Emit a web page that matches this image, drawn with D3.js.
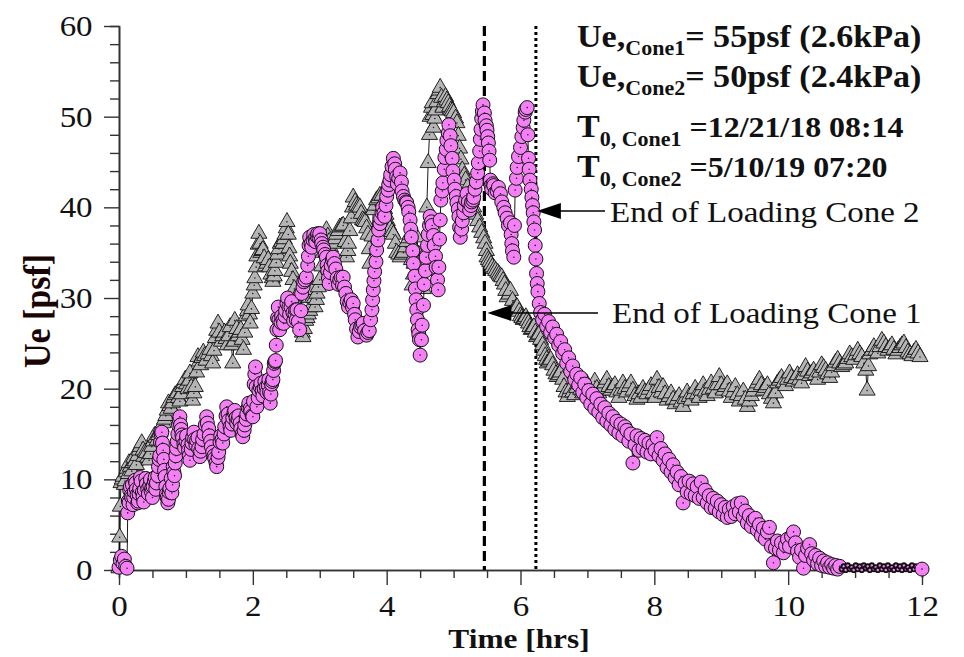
<!DOCTYPE html>
<html>
<head>
<meta charset="utf-8">
<script src="https://cdn.jsdelivr.net/npm/d3@7"></script>
<style>
  body { margin: 0; background: #fff; }
  svg { display: block; }
  text { font-family: "Liberation Serif", "Times New Roman", serif; }
</style>
</head>
<body>
<svg id="chart" width="964" height="657"></svg>
<script>
// Cone 1 (grey triangles): [time hrs, Ue psf]
var cone1 = [
  [0.00,0.2],[0.01,3.6],[0.02,7.0],[0.03,9.6],[0.05,10.0],[0.06,10.3],[0.08,9.4],[0.09,9.8],[0.11,10.8],[0.12,11.2],
  [0.14,10.6],[0.15,11.8],[0.17,11.4],[0.19,10.9],[0.21,11.8],[0.22,12.4],[0.24,12.0],[0.26,11.6],[0.28,12.6],[0.30,13.2],
  [0.32,13.6],[0.34,14.0],[0.36,13.2],[0.37,12.5],[0.39,13.0],[0.41,12.9],[0.43,12.4],[0.45,12.1],[0.47,12.8],[0.49,13.6],
  [0.51,14.2],[0.53,14.8],[0.55,14.6],[0.57,14.3],[0.59,14.9],[0.61,15.2],[0.63,15.8],[0.66,16.2],[0.68,16.6],[0.70,17.0],
  [0.72,17.6],[0.74,18.4],[0.76,18.1],[0.78,17.8],[0.80,18.4],[0.82,19.0],[0.84,19.3],[0.87,19.5],[0.89,19.0],[0.91,18.6],
  [0.93,19.4],[0.95,20.2],[0.97,20.6],[0.99,21.0],[1.01,20.5],[1.03,20.0],[1.05,20.9],[1.06,21.7],[1.08,20.1],[1.10,18.7],
  [1.12,19.5],[1.14,20.2],[1.16,21.8],[1.18,23.5],[1.20,23.0],[1.22,22.6],[1.24,23.4],[1.26,24.0],[1.28,23.6],[1.30,23.1],
  [1.33,23.8],[1.36,24.3],[1.38,23.6],[1.40,22.8],[1.42,24.2],[1.44,25.6],[1.46,26.4],[1.48,27.2],[1.50,26.2],[1.53,25.2],
  [1.55,25.8],[1.58,26.2],[1.60,25.5],[1.62,24.8],[1.64,25.8],[1.66,26.8],[1.68,24.8],[1.70,22.8],[1.72,25.2],[1.73,27.5],
  [1.76,26.6],[1.78,25.8],[1.80,26.2],[1.82,26.5],[1.84,25.4],[1.86,24.3],[1.88,26.2],[1.90,28.0],[1.92,28.6],[1.93,29.2],
  [1.95,28.2],[1.96,27.2],[1.98,28.8],[2.00,30.5],[2.02,31.4],[2.03,32.2],[2.05,33.4],[2.06,34.6],[2.08,35.9],[2.09,37.1],
  [2.11,36.0],[2.12,35.0],[2.14,35.2],[2.15,35.3],[2.17,34.4],[2.19,33.5],[2.21,33.8],[2.23,34.2],[2.25,33.4],[2.27,32.6],
  [2.29,32.2],[2.30,31.8],[2.32,32.4],[2.33,33.0],[2.35,33.9],[2.37,34.8],[2.39,35.4],[2.41,36.0],[2.43,36.2],[2.45,36.0],
  [2.47,36.5],[2.48,37.0],[2.50,37.7],[2.51,38.4],[2.53,37.0],[2.54,35.5],[2.55,34.6],[2.56,33.8],[2.58,32.9],[2.60,32.0],
  [2.62,31.0],[2.64,30.0],[2.66,29.2],[2.68,28.4],[2.70,27.6],[2.72,26.8],[2.74,26.2],[2.75,25.7],[2.77,26.6],[2.79,27.5],
  [2.81,27.8],[2.83,28.2],[2.85,28.6],[2.87,29.0],[2.89,30.0],[2.90,30.9],[2.92,30.0],[2.93,29.0],[2.95,29.8],[2.96,30.5],
  [2.98,31.2],[3.00,32.0],[3.03,33.5],[3.05,35.0],[3.08,36.2],[3.10,37.5],[3.12,36.8],[3.14,36.2],[3.16,35.6],[3.18,35.0],
  [3.20,36.0],[3.23,36.5],[3.25,37.0],[3.28,37.4],[3.30,37.8],[3.33,37.9],[3.35,38.0],[3.38,36.2],[3.40,34.5],[3.42,35.2],
  [3.43,36.0],[3.45,37.4],[3.47,38.8],[3.49,40.0],[3.50,41.1],[3.53,40.6],[3.55,40.2],[3.58,40.1],[3.60,40.0],[3.62,39.3],
  [3.64,38.6],[3.66,38.5],[3.68,38.4],[3.70,37.7],[3.72,37.0],[3.74,35.4],[3.75,33.8],[3.78,36.8],[3.80,39.7],[3.83,40.2],
  [3.85,40.8],[3.88,41.0],[3.90,41.3],[3.93,41.3],[3.95,40.6],[3.97,39.8],[3.99,39.2],[4.01,38.5],[4.03,38.0],[4.05,37.6],
  [4.08,37.3],[4.10,37.0],[4.13,36.0],[4.15,35.0],[4.18,34.8],[4.20,34.5],[4.23,34.8],[4.25,35.0],[4.28,35.6],[4.30,36.2],
  [4.33,36.6],[4.35,37.0],[4.37,34.2],[4.38,31.4],[4.40,32.6],[4.41,33.8],[4.43,35.2],[4.45,36.7],[4.48,34.8],[4.50,33.0],
  [4.53,32.0],[4.55,31.0],[4.57,33.0],[4.58,35.0],[4.60,40.0],[4.62,44.9],[4.64,48.0],[4.65,50.0],[4.67,51.0],[4.68,51.5],
  [4.69,50.2],[4.70,48.8],[4.72,49.8],[4.73,50.7],[4.75,51.6],[4.77,52.5],[4.79,52.9],[4.80,53.2],[4.82,52.1],[4.84,51.0],
  [4.86,51.6],[4.88,52.2],[4.90,51.8],[4.92,51.5],[4.94,51.1],[4.96,50.7],[4.98,50.6],[5.00,50.4],[5.03,49.8],[5.05,49.3],
  [5.07,47.9],[5.09,46.5],[5.11,45.3],[5.13,44.1],[5.16,43.5],[5.18,43.0],[5.21,42.2],[5.24,41.5],[5.27,40.8],[5.30,40.0],
  [5.33,39.2],[5.36,38.5],[5.39,37.8],[5.42,37.2],[5.45,36.6],[5.47,36.0],[5.49,35.2],[5.50,34.5],[5.52,34.2],[5.54,34.0],
  [5.56,33.7],[5.58,33.4],[5.61,33.2],[5.63,33.0],[5.66,32.8],[5.68,32.6],[5.70,32.4],[5.72,32.3],[5.74,31.9],[5.76,31.5],
  [5.78,30.8],[5.80,30.1],[5.83,30.4],[5.85,30.8],[5.88,29.7],[5.90,28.7],[5.93,28.9],[5.95,29.0],[5.98,28.5],[6.00,28.0],
  [6.02,27.8],[6.04,27.6],[6.06,27.7],[6.08,27.9],[6.10,27.5],[6.12,27.2],[6.14,26.8],[6.16,26.5],[6.18,26.6],[6.20,26.8],
  [6.22,26.2],[6.24,25.7],[6.26,25.9],[6.28,26.0],[6.30,25.4],[6.33,24.8],[6.35,24.2],[6.37,23.6],[6.39,23.2],[6.40,22.8],
  [6.43,23.0],[6.45,23.2],[6.48,22.6],[6.50,22.0],[6.53,21.6],[6.55,21.3],[6.58,21.5],[6.60,21.8],[6.63,21.0],[6.65,20.2],
  [6.68,19.6],[6.70,19.1],[6.73,19.6],[6.75,20.0],[6.78,19.6],[6.81,19.3],[6.84,20.1],[6.87,20.5],[6.90,19.9],[6.93,19.5],
  [6.96,20.2],[6.99,20.6],[7.02,19.8],[7.05,19.2],[7.08,20.3],[7.11,20.8],[7.14,20.0],[7.17,19.5],[7.20,19.8],[7.23,20.0],
  [7.26,20.6],[7.29,21.0],[7.32,20.2],[7.35,19.8],[7.38,20.1],[7.41,20.4],[7.44,19.6],[7.47,19.0],[7.50,19.8],[7.53,20.6],
  [7.56,20.0],[7.59,19.6],[7.62,20.2],[7.65,20.6],[7.68,19.8],[7.71,19.2],[7.74,18.8],[7.77,19.4],[7.80,19.0],[7.83,20.0],
  [7.86,19.6],[7.89,19.4],[7.92,19.9],[7.95,20.3],[7.98,19.5],[8.01,19.0],[8.04,21.0],[8.07,20.1],[8.10,19.6],[8.13,20.2],
  [8.16,19.4],[8.19,18.7],[8.22,19.1],[8.25,19.5],[8.28,18.8],[8.31,18.3],[8.34,18.8],[8.37,19.2],[8.40,18.5],[8.43,18.0],
  [8.46,18.9],[8.49,19.6],[8.52,19.1],[8.55,18.7],[8.58,19.4],[8.61,20.0],[8.64,19.4],[8.67,19.0],[8.70,19.8],[8.73,20.4],
  [8.76,19.7],[8.79,19.2],[8.82,19.9],[8.85,20.6],[8.88,20.0],[8.91,19.5],[8.94,20.4],[8.97,21.3],[9.00,20.4],[9.03,19.8],
  [9.06,20.2],[9.09,20.5],[9.12,19.7],[9.15,19.0],[9.18,19.6],[9.21,20.2],[9.24,19.3],[9.27,18.6],[9.30,19.2],[9.33,19.7],
  [9.36,18.8],[9.39,18.0],[9.42,18.6],[9.45,19.2],[9.48,19.7],[9.51,20.2],[9.54,20.6],[9.57,21.0],[9.60,20.4],[9.63,19.8],
  [9.66,20.1],[9.69,20.4],[9.72,19.4],[9.75,18.9],[9.78,18.4],[9.81,19.5],[9.84,20.6],[9.87,20.9],[9.90,21.2],[9.93,20.7],
  [9.96,20.3],[9.99,21.0],[10.02,21.7],[10.05,21.2],[10.08,20.8],[10.11,21.1],[10.14,21.5],[10.17,21.0],[10.20,20.6],[10.23,21.5],
  [10.26,22.4],[10.29,21.9],[10.32,21.4],[10.35,21.7],[10.38,22.0],[10.41,21.5],[10.44,21.0],[10.47,21.8],[10.50,22.6],[10.53,22.3],
  [10.56,22.0],[10.59,21.6],[10.62,21.2],[10.65,21.8],[10.68,22.5],[10.71,22.9],[10.74,23.2],[10.77,22.8],[10.80,22.4],[10.83,22.6],
  [10.86,22.8],[10.89,23.3],[10.92,23.8],[10.95,23.5],[10.98,23.2],[11.01,23.7],[11.04,24.2],[11.07,23.8],[11.10,23.5],[11.13,22.8],
  [11.16,22.0],[11.18,19.8],[11.20,22.5],[11.22,23.8],[11.25,24.2],[11.28,24.6],[11.31,24.2],[11.34,23.9],[11.37,24.6],[11.40,25.3],
  [11.43,25.0],[11.46,24.6],[11.49,24.2],[11.52,24.5],[11.55,24.8],[11.58,24.3],[11.61,23.8],[11.64,24.2],[11.67,24.5],[11.70,24.8],
  [11.73,25.0],[11.76,24.5],[11.79,24.0],[11.82,23.8],[11.85,23.6],[11.88,24.0],[11.91,24.3],[11.94,23.9],[11.97,23.5]
];

// Cone 2 (magenta circles): [time hrs, Ue psf]
var cone2 = [
  [0.00,0.3],[0.02,1.1],[0.04,1.5],[0.06,0.7],[0.08,1.2],[0.10,0.4],[0.12,0.2],[0.13,6.3],[0.14,7.6],[0.15,7.4],
  [0.16,8.8],[0.17,9.2],[0.18,8.2],[0.19,8.0],[0.20,9.4],[0.21,7.2],[0.22,8.0],[0.23,8.6],[0.24,9.9],[0.25,9.6],
  [0.26,8.9],[0.27,8.3],[0.28,7.4],[0.29,7.6],[0.30,8.4],[0.31,9.0],[0.32,10.2],[0.33,9.8],[0.35,8.6],[0.36,8.1],
  [0.37,7.5],[0.38,8.8],[0.40,10.1],[0.41,9.5],[0.43,8.9],[0.44,8.4],[0.46,9.3],[0.47,10.0],[0.48,8.7],[0.49,9.1],
  [0.50,8.0],[0.51,9.2],[0.53,9.8],[0.54,10.2],[0.55,8.9],[0.56,9.6],[0.58,10.4],[0.59,11.4],[0.60,12.2],[0.61,12.6],
  [0.62,14.1],[0.63,15.0],[0.64,15.2],[0.65,14.0],[0.66,13.2],[0.67,12.2],[0.68,11.0],[0.69,10.3],[0.70,9.2],[0.71,8.4],
  [0.72,8.0],[0.73,7.4],[0.74,7.8],[0.75,8.6],[0.76,9.0],[0.78,10.1],[0.79,8.5],[0.80,9.4],[0.81,11.4],[0.82,10.8],
  [0.83,10.4],[0.84,11.8],[0.85,12.6],[0.86,13.4],[0.87,14.2],[0.88,15.0],[0.89,16.0],[0.90,16.6],[0.91,16.9],[0.92,16.0],
  [0.93,15.5],[0.94,14.9],[0.95,14.6],[0.97,13.9],[0.98,13.5],[1.00,14.2],[1.01,14.8],[1.03,13.8],[1.04,13.2],[1.05,12.6],
  [1.06,12.1],[1.08,13.3],[1.09,14.0],[1.10,14.6],[1.12,15.2],[1.13,14.4],[1.15,13.8],[1.16,14.3],[1.18,14.6],[1.19,13.4],
  [1.21,12.5],[1.22,13.1],[1.24,13.6],[1.25,14.4],[1.27,15.0],[1.29,16.0],[1.31,16.9],[1.32,16.2],[1.34,15.6],[1.35,14.8],
  [1.37,14.2],[1.38,13.6],[1.40,13.0],[1.42,12.6],[1.43,12.3],[1.45,11.8],[1.46,11.4],[1.48,12.4],[1.49,13.0],[1.51,14.1],
  [1.52,14.8],[1.54,14.4],[1.55,14.0],[1.57,15.0],[1.58,15.8],[1.60,17.0],[1.61,18.0],[1.63,17.2],[1.64,16.5],[1.66,15.8],
  [1.67,15.4],[1.69,16.1],[1.70,16.8],[1.72,17.4],[1.73,17.6],[1.75,16.8],[1.76,16.2],[1.78,16.6],[1.79,17.0],[1.81,16.2],
  [1.82,15.6],[1.84,15.0],[1.85,14.7],[1.87,15.4],[1.88,16.0],[1.90,16.6],[1.91,17.2],[1.93,17.9],[1.94,18.4],[1.96,17.8],
  [1.97,17.5],[1.99,17.0],[2.00,16.9],[2.01,18.6],[2.02,20.5],[2.03,21.6],[2.04,22.4],[2.05,20.2],[2.06,18.0],[2.08,19.0],
  [2.09,19.8],[2.11,20.2],[2.12,20.6],[2.14,19.8],[2.15,19.2],[2.17,20.0],[2.18,20.8],[2.20,20.2],[2.21,19.6],[2.23,20.4],
  [2.24,21.0],[2.25,19.6],[2.26,18.4],[2.27,19.4],[2.28,20.5],[2.29,20.8],[2.30,21.0],[2.31,22.0],[2.32,22.8],[2.33,23.0],
  [2.34,23.1],[2.35,24.8],[2.36,26.5],[2.37,27.8],[2.38,29.0],[2.39,27.6],[2.40,26.5],[2.42,27.3],[2.43,28.0],[2.45,27.6],
  [2.46,27.2],[2.48,28.0],[2.49,28.6],[2.51,29.4],[2.52,30.0],[2.54,29.0],[2.55,28.2],[2.57,29.0],[2.58,29.6],[2.60,28.4],
  [2.61,27.5],[2.63,28.2],[2.64,28.7],[2.65,27.6],[2.66,28.7],[2.68,27.4],[2.70,26.5],[2.72,28.6],[2.73,30.5],[2.75,31.2],
  [2.76,31.8],[2.78,32.0],[2.80,32.3],[2.82,33.6],[2.83,34.6],[2.84,35.8],[2.85,36.7],[2.87,36.0],[2.88,35.6],[2.90,36.4],
  [2.91,37.0],[2.93,36.6],[2.94,36.2],[2.96,36.8],[2.97,37.1],[2.99,36.6],[3.00,37.1],[3.02,36.4],[3.03,36.0],[3.05,35.6],
  [3.06,35.3],[3.08,34.8],[3.10,34.5],[3.11,33.6],[3.12,33.0],[3.13,32.2],[3.14,31.6],[3.16,32.8],[3.17,33.6],[3.19,34.2],
  [3.20,34.5],[3.22,33.8],[3.24,33.2],[3.26,32.2],[3.28,31.5],[3.30,32.0],[3.32,32.3],[3.34,31.4],[3.35,32.3],[3.37,31.2],
  [3.39,30.5],[3.41,29.6],[3.43,29.0],[3.45,29.5],[3.47,29.8],[3.49,29.0],[3.50,29.4],[3.52,28.2],[3.53,27.6],[3.55,26.6],
  [3.57,25.7],[3.59,26.3],[3.61,26.8],[3.63,27.0],[3.65,27.2],[3.67,26.4],[3.70,25.9],[3.72,26.2],[3.74,26.4],[3.76,27.6],
  [3.78,28.7],[3.79,29.8],[3.80,30.9],[3.81,31.9],[3.82,32.9],[3.84,34.0],[3.85,35.3],[3.87,36.4],[3.88,37.5],[3.90,38.2],
  [3.91,38.8],[3.93,39.4],[3.94,40.0],[3.96,39.4],[3.97,39.0],[3.99,40.2],[4.00,41.2],[4.02,41.9],[4.03,42.5],[4.05,43.0],
  [4.06,43.6],[4.08,44.5],[4.10,45.4],[4.12,44.8],[4.13,44.2],[4.15,43.4],[4.16,42.6],[4.18,43.2],[4.20,43.8],[4.22,42.8],
  [4.23,41.8],[4.25,41.2],[4.27,40.8],[4.29,40.6],[4.30,40.5],[4.32,40.0],[4.33,39.5],[4.35,38.6],[4.36,37.6],[4.37,36.7],
  [4.39,35.2],[4.40,33.8],[4.42,32.4],[4.43,31.0],[4.44,29.8],[4.45,28.7],[4.46,27.6],[4.47,26.5],[4.48,26.0],[4.49,25.4],
  [4.50,23.7],[4.52,25.4],[4.53,27.0],[4.55,29.2],[4.56,31.5],[4.58,33.0],[4.59,34.5],[4.61,35.8],[4.62,37.0],[4.64,38.0],
  [4.65,39.0],[4.67,38.4],[4.68,38.0],[4.70,36.9],[4.71,35.8],[4.73,34.6],[4.74,33.4],[4.76,32.0],[4.77,30.9],[4.78,33.4],
  [4.79,36.5],[4.80,38.6],[4.81,40.8],[4.83,41.8],[4.84,42.7],[4.86,44.2],[4.87,45.5],[4.89,46.4],[4.90,47.4],[4.92,48.2],
  [4.93,49.1],[4.95,47.9],[4.96,46.8],[4.98,45.4],[4.99,44.0],[5.01,43.0],[5.02,42.0],[5.04,41.2],[5.05,40.5],[5.07,39.8],
  [5.08,39.0],[5.09,37.8],[5.10,36.7],[5.12,37.6],[5.13,38.5],[5.15,39.4],[5.16,40.2],[5.18,40.8],[5.20,41.5],[5.22,40.6],
  [5.24,39.7],[5.26,40.2],[5.27,40.6],[5.29,40.8],[5.30,41.1],[5.32,42.0],[5.34,42.8],[5.36,43.8],[5.37,44.9],[5.39,46.2],
  [5.40,47.5],[5.41,48.6],[5.42,49.8],[5.43,50.6],[5.44,51.3],[5.46,50.4],[5.47,49.6],[5.49,49.0],[5.50,48.5],[5.51,47.8],
  [5.52,47.1],[5.53,46.2],[5.54,45.2],[5.55,43.0],[5.56,42.4],[5.57,42.0],[5.59,42.6],[5.60,42.4],[5.62,41.6],[5.65,41.8],
  [5.67,42.2],[5.70,41.5],[5.72,40.6],[5.75,40.0],[5.77,39.4],[5.80,38.8],[5.82,38.0],[5.85,38.3],[5.86,37.0],[5.87,36.0],
  [5.88,35.2],[5.90,34.5],[5.91,38.0],[5.92,41.9],[5.94,43.2],[5.95,44.4],[5.97,45.6],[6.00,46.6],[6.02,47.8],[6.04,48.8],
  [6.05,49.6],[6.07,50.5],[6.08,50.8],[6.10,51.0],[6.11,48.0],[6.12,45.4],[6.13,44.2],[6.14,43.0],[6.16,42.0],[6.17,41.1],
  [6.18,40.2],[6.19,39.4],[6.20,38.4],[6.21,37.5],[6.22,35.8],[6.23,34.3],[6.24,32.7],[6.25,31.6],[6.26,30.7],[6.28,29.4],
  [6.30,28.4],[6.33,27.6],[6.36,28.2],[6.39,26.9],[6.42,27.4],[6.45,26.2],[6.48,26.8],[6.51,25.6],[6.54,26.0],[6.57,24.8],
  [6.60,25.2],[6.63,23.9],[6.66,24.3],[6.69,22.8],[6.72,23.4],[6.75,21.9],[6.78,22.5],[6.81,21.0],[6.84,21.6],[6.87,20.4],
  [6.90,21.2],[6.93,19.6],[6.96,20.5],[6.99,19.0],[7.02,19.8],[7.05,18.3],[7.08,19.4],[7.11,17.8],[7.14,18.9],[7.17,17.4],
  [7.20,18.3],[7.23,16.8],[7.26,17.9],[7.29,16.4],[7.32,17.3],[7.35,16.0],[7.38,16.9],[7.41,15.5],[7.44,16.4],[7.47,15.1],
  [7.50,16.1],[7.53,14.8],[7.56,15.8],[7.59,15.4],[7.62,14.2],[7.65,15.0],[7.68,11.8],[7.71,13.8],[7.74,14.8],[7.77,13.2],
  [7.80,14.5],[7.83,13.4],[7.86,14.3],[7.89,13.0],[7.92,14.0],[7.95,12.8],[7.98,13.8],[8.01,13.2],[8.04,14.6],[8.07,12.6],
  [8.10,13.4],[8.13,12.1],[8.16,12.8],[8.19,11.3],[8.22,12.2],[8.25,10.8],[8.28,11.6],[8.31,10.2],[8.34,10.8],[8.37,9.4],
  [8.40,10.3],[8.43,7.4],[8.46,9.6],[8.49,8.6],[8.52,9.8],[8.55,8.4],[8.58,9.5],[8.61,8.2],[8.64,9.2],[8.67,7.9],
  [8.70,9.7],[8.73,8.0],[8.76,8.8],[8.79,7.4],[8.82,8.2],[8.85,6.9],[8.88,7.9],[8.91,6.8],[8.94,7.6],[8.97,6.4],
  [9.00,7.2],[9.03,6.1],[9.06,6.9],[9.09,5.8],[9.12,6.7],[9.15,5.9],[9.18,7.0],[9.21,6.2],[9.24,7.3],[9.27,6.4],
  [9.30,7.4],[9.33,5.9],[9.36,6.5],[9.39,5.2],[9.42,6.0],[9.45,4.8],[9.48,5.5],[9.51,5.7],[9.54,4.4],[9.57,5.0],
  [9.60,3.8],[9.63,4.6],[9.66,3.4],[9.69,4.2],[9.72,4.7],[9.75,2.6],[9.78,0.8],[9.81,2.4],[9.84,3.2],[9.87,2.2],
  [9.90,3.0],[9.93,1.9],[9.96,2.7],[9.99,3.4],[10.02,2.6],[10.05,3.7],[10.08,4.2],[10.11,3.0],[10.14,2.1],[10.17,1.4],
  [10.20,2.2],[10.23,0.2],[10.26,1.6],[10.29,2.4],[10.32,2.8],[10.35,1.8],[10.38,1.1],[10.41,1.6],[10.44,0.7],[10.47,1.3],
  [10.50,0.5],[10.53,1.0],[10.56,0.4],[10.59,0.8],[10.62,0.3],[10.65,0.6],[10.68,0.2],[10.71,0.5],[10.74,0.1],[10.77,0.4],
  [10.80,0.1],[10.83,0.4],[10.86,0.0],[10.89,0.5],[10.92,0.1],[10.95,0.3],[10.98,0.0],[11.01,0.5],[11.04,0.1],[11.07,0.4],
  [11.10,0.0],[11.13,0.5],[11.16,0.2],[11.19,0.4],[11.22,0.0],[11.25,0.5],[11.28,0.1],[11.31,0.3],[11.34,0.0],[11.37,0.5],
  [11.40,0.1],[11.43,0.4],[11.46,0.0],[11.49,0.5],[11.52,0.1],[11.55,0.3],[11.58,0.0],[11.61,0.5],[11.64,0.1],[11.67,0.4],
  [11.70,0.0],[11.73,0.5],[11.76,0.1],[11.79,0.3],[11.82,0.0],[11.85,0.5],[11.88,0.1],[11.91,0.4],[11.94,0.0],[12.00,0.1]
];

var xTicks = [0, 2, 4, 6, 8, 10, 12];
var yTicks = [0, 10, 20, 30, 40, 50, 60];
var endLoad1 = 5.46, endLoad2 = 6.23;   // hrs

var svg = d3.select("#chart");
var x = d3.scaleLinear().domain([0, 12]).range([119, 922]);
var y = d3.scaleLinear().domain([0, 60]).range([570, 26]);

// axes: major + minor ticks, outward
function styleAxis(g){
    g.selectAll("path.domain").attr("stroke", "#333").attr("stroke-width", 1.6);
    g.selectAll(".tick line").attr("stroke", "#333").attr("stroke-width", 1.4);
    g.selectAll("text").attr("font-size", 30).attr("fill", "#111").attr("transform", "scale(1.1,1)");
}
var xMinor = d3.range(0, 12.01, 0.5).filter(function(d){ return d % 2 !== 0; });
var yMinor = d3.range(0, 60.1, 2).filter(function(d){ return d % 10 !== 0; });

svg.append("g").attr("transform", "translate(0,570)")
    .call(d3.axisBottom(x).tickValues(xMinor).tickSize(8).tickFormat(""))
    .call(styleAxis);
svg.append("g").attr("transform", "translate(0,570)")
    .call(d3.axisBottom(x).tickValues(xTicks).tickSize(15).tickPadding(10).tickSizeOuter(0))
    .call(styleAxis);
svg.append("g").attr("transform", "translate(119,0)")
    .call(d3.axisLeft(y).tickValues(yMinor).tickSize(9).tickFormat(""))
    .call(styleAxis);
svg.append("g").attr("transform", "translate(119,0)")
    .call(d3.axisLeft(y).tickValues(yTicks).tickSize(15).tickPadding(9).tickSizeOuter(0))
    .call(styleAxis);

// axis titles
svg.append("text")
    .attr("transform", "translate(519,648) scale(1.12,1)")
    .attr("text-anchor", "middle").attr("font-size", 28).attr("font-weight", "bold")
    .attr("fill", "#111").text("Time [hrs]");
svg.append("text")
    .attr("transform", "translate(50,311) rotate(-90) scale(1,1.1)")
    .attr("text-anchor", "middle").attr("font-size", 34).attr("font-weight", "bold")
    .attr("fill", "#1a0505").text("Ue [psf]");

// end of loading lines
svg.append("line")
    .attr("x1", x(endLoad1)).attr("x2", x(endLoad1)).attr("y1", 26).attr("y2", 570)
    .attr("stroke", "#000").attr("stroke-width", 3.2).attr("stroke-dasharray", "10,5");
svg.append("line")
    .attr("x1", x(endLoad2)).attr("x2", x(endLoad2)).attr("y1", 26).attr("y2", 570)
    .attr("stroke", "#000").attr("stroke-width", 3).attr("stroke-dasharray", "3,3");

var line = d3.line().x(function(d){ return x(d[0]); }).y(function(d){ return y(d[1]); });

// cone 1 triangles
svg.append("path").datum(cone1).attr("d", line)
    .attr("fill", "none").attr("stroke", "#000").attr("stroke-width", 0.9);
var tri = svg.append("g").selectAll("g").data(cone1).enter().append("g")
    .attr("transform", function(d){ return "translate(" + x(d[0]) + "," + y(d[1]) + ")"; });
tri.append("path").attr("d", d3.symbol(d3.symbolTriangle, 112))
    .attr("fill", "#b5b5b5").attr("stroke", "#111").attr("stroke-width", 0.9);
tri.append("circle").attr("r", 0.8).attr("fill", "#222");

// cone 2 circles
svg.append("path").datum(cone2).attr("d", line)
    .attr("fill", "none").attr("stroke", "#000").attr("stroke-width", 0.9);
var small = function(d){ return d[0] > 10.79 && d[0] < 11.95; };
var circ = svg.append("g").selectAll("g").data(cone2).enter().append("g")
    .attr("transform", function(d){ return "translate(" + x(d[0]) + "," + y(d[1]) + ")"; });
circ.append("circle").attr("r", function(d){ return small(d) ? 2.2 : 7; })
    .attr("fill", "#f57ff5").attr("stroke", "#111")
    .attr("stroke-width", function(d){ return small(d) ? 1.8 : 1; });
circ.filter(function(d){ return !small(d); })
    .append("circle").attr("r", 0.8).attr("fill", "#222");

// annotation text
function label(px, py, parts, weight){
    var t = svg.append("text")
        .attr("transform", "translate(" + px + "," + py + ") scale(1.1,1)")
        .attr("font-weight", weight).attr("fill", "#111");
    parts.forEach(function(p){
        t.append("tspan").attr("font-size", p[1]).attr("dy", p[2]).text(p[0]);
    });
}
label(577, 47,  [["Ue,", 31, 0], ["Cone1", 20, 8], ["= 55psf (2.6kPa)", 31, -8]], "bold");
label(577, 87,  [["Ue,", 31, 0], ["Cone2", 20, 8], ["= 50psf (2.4kPa)", 31, -8]], "bold");
label(577, 137, [["T", 31, 0], ["0, Cone1", 20, 9], [" =12/21/18 08:14", 29, -9]], "bold");
label(577, 177, [["T", 31, 0], ["0, Cone2", 20, 9], [" =5/10/19 07:20", 29, -9]], "bold");
label(610, 222, [["End of Loading Cone 2", 30, 0]], "normal");
label(612, 323, [["End of Loading Cone 1", 30, 0]], "normal");

// arrows
function arrow(tipX, yy, endX){
    svg.append("line").attr("x1", tipX + 20).attr("x2", endX).attr("y1", yy).attr("y2", yy)
        .attr("stroke", "#000").attr("stroke-width", 1.3);
    svg.append("path")
        .attr("d", "M" + tipX + "," + yy + "L" + (tipX + 24) + "," + (yy - 8) + "L" + (tipX + 24) + "," + (yy + 8) + "Z")
        .attr("fill", "#000");
}
arrow(x(endLoad2) + 1, 211, 605);
arrow(x(endLoad1) + 3, 313, 598);
</script>
</body>
</html>
